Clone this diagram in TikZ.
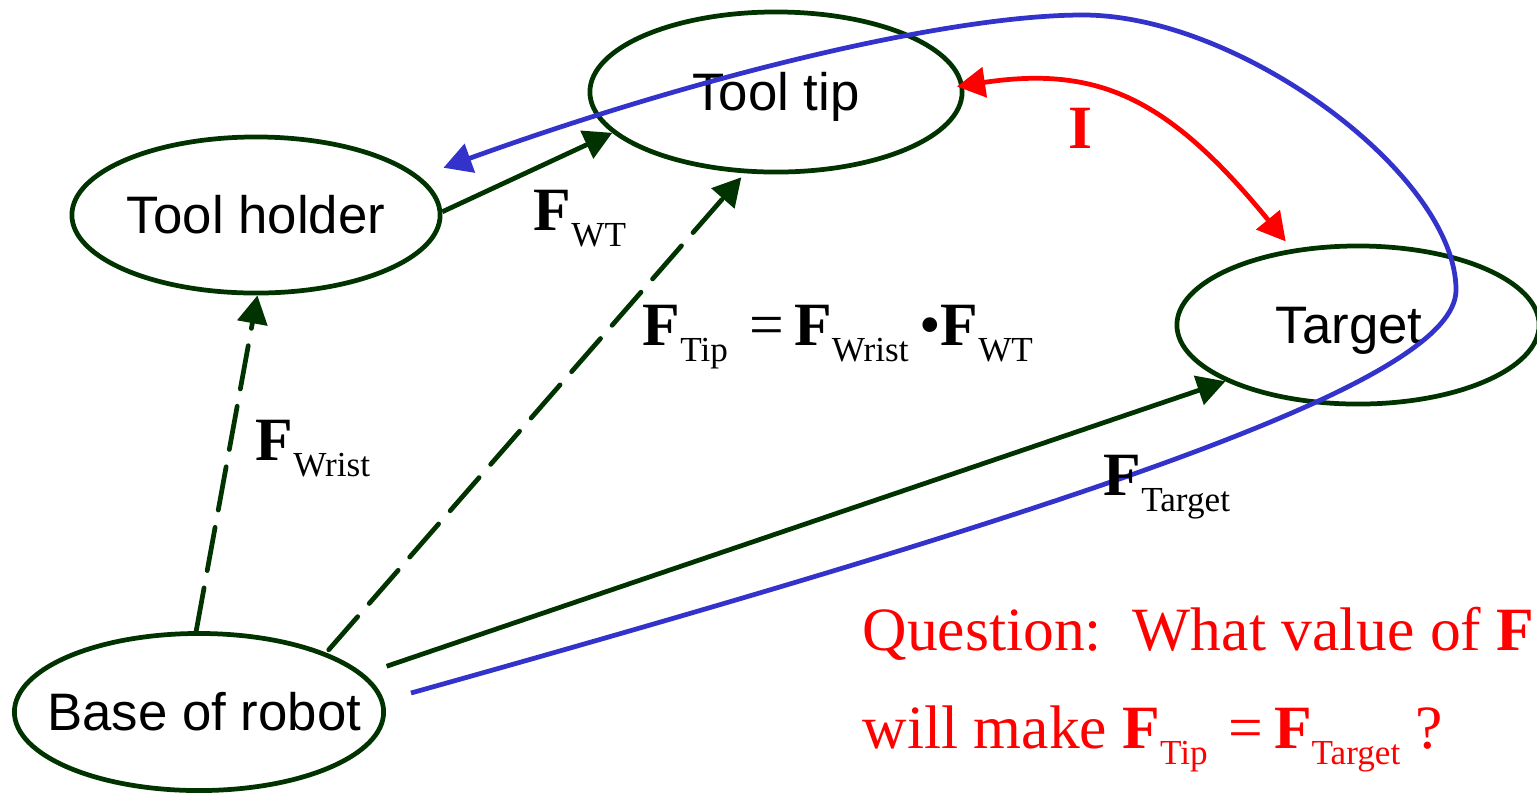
\documentclass[tikz,border=0pt]{standalone}
\usepackage{fontspec}
\setmainfont{Liberation Serif}
\newfontfamily\sansf{Liberation Sans}
\usetikzlibrary{arrows.meta,shapes.geometric}
\definecolor{dkgreen}{HTML}{003300}
\definecolor{myblue}{HTML}{3333CC}
\definecolor{myred}{HTML}{FF0000}
\newcommand{\Fsub}[1]{\textbf{F}\raisebox{-4.6pt}{\fontsize{10}{12}\selectfont #1}}
\newcommand{\ztext}[1]{\makebox[0pt][c]{#1}}
\begin{document}
\begin{tikzpicture}[x=0.01cm,y=-0.01cm,
  frame/.style={ellipse,draw=dkgreen,line width=1.35pt,inner sep=0pt,
    font=\sansf\fontsize{15}{18}\selectfont,text height=10.7pt,text depth=0pt},
  link/.style={draw=dkgreen,line width=1.35pt,-{Triangle[length=8pt,width=8.5pt]}},
  dashlink/.style={link,dash pattern=on 12.5pt off 5pt,line cap=round},
  lbl/.style={anchor=base west,inner sep=0pt,font=\fontsize{17.5}{21}\selectfont},
  tipboth/.style={{Triangle[length=8pt,width=8.5pt]}-{Triangle[length=8pt,width=8.5pt]}}
]
\useasboundingbox (0,0) rectangle (1537,793);

% frames
\node[frame,minimum width=3.72cm,minimum height=1.60cm] (tip) at (776,92) {\ztext{Tool tip}};
\node[frame,minimum width=3.68cm,minimum height=1.56cm] (holder) at (256,215) {\ztext{Tool holder}};
\node[frame,minimum width=3.62cm,minimum height=1.58cm] (target) at (1358,325) {\ztext{Target\hspace{5pt}}};
\node[frame,minimum width=3.69cm,minimum height=1.57cm] (base) at (199,712) {\ztext{\hspace{3pt}Base of robot}};

% green transforms
\draw[link] (holder.1) -- (tip.194);
\draw[dashlink] (base.92) -- (holder.271);
\draw[dashlink,shorten <=1.1pt,shorten >=1.5pt] (base.25) -- (tip.249);
\draw[link,shorten <=6.8pt] (base.13) -- (target.203);

% red I
\draw[myred,line width=1.35pt,tipboth,shorten <=-2pt,shorten >=2.8pt]
  (tip.2) .. controls (1100,65) and (1170,100) .. (target.131);

% blue loop
\coordinate (bs) at ([shift={(25,-19)}]base.east);
\coordinate (be) at ([shift={(26,-7)}]holder.14);
\draw[myblue,line width=1.35pt,-{Triangle[length=8pt,width=8.5pt]}]
  (bs) .. controls (1100,500) and (1456,380) .. (1456,290)
       .. controls (1456,175) and (1240,15) .. (1083,15)
       .. controls (950,15) and (700,75) .. (be);

% labels
\node[lbl] (lwt) at (533,230) {\Fsub{WT}};
\node[lbl] (lwrist) at (255,460) {\Fsub{Wrist}};
\node[lbl] (ltarget) at (1103,495) {\Fsub{Target}};
\node[lbl] (leq) at (642,345) {\Fsub{Tip}\hspace{6pt}=\hspace{3pt}\Fsub{Wrist}\hspace{3pt}\textbullet\Fsub{WT}};
\node[lbl,text=myred] (li) at (1068,148) {\textbf{I}};
\node[lbl,text=myred] (q1) at (862,650) {Question:\ \ What value of \textbf{F}};
\node[lbl,text=myred] (q2) at (862,748) {will make \Fsub{Tip}\hspace{6pt}=\hspace{3pt}\Fsub{Target}\ ?};
\end{tikzpicture}
\end{document}
